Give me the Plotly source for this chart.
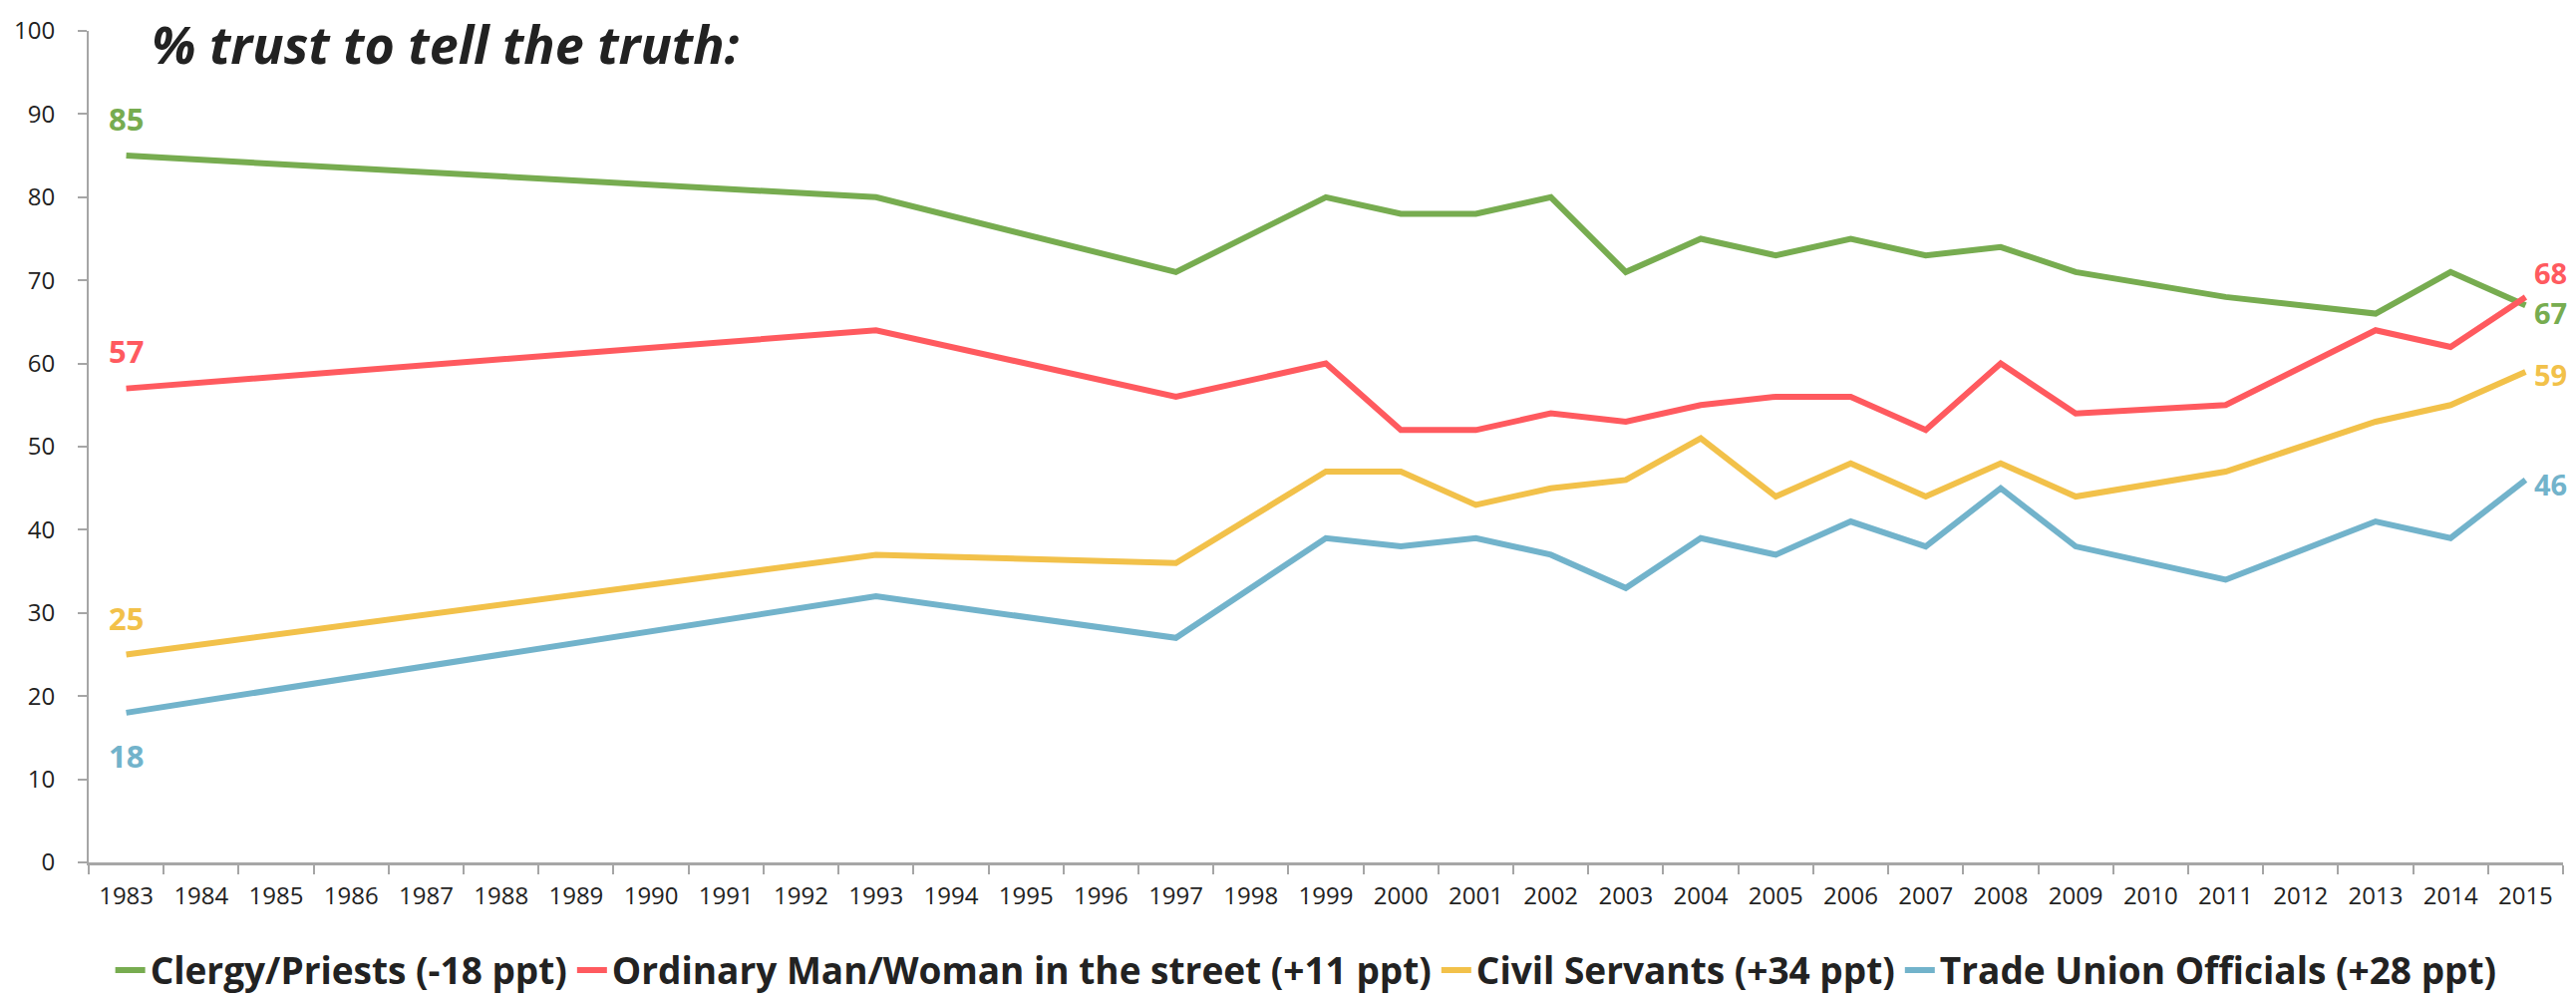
import plotly.graph_objects as go

# category axis: every year from 1983 to 2015, survey only in some years
years = [str(y) for y in range(1983, 2016)]
survey_years = ["1983", "1993", "1997", "1999", "2000", "2001", "2002", "2003", "2004",
                "2005", "2006", "2007", "2008", "2009", "2011", "2013", "2014", "2015"]

clergy = [85, 80, 71, 80, 78, 78, 80, 71, 75, 73, 75, 73, 74, 71, 68, 66, 71, 67]
ordinary = [57, 64, 56, 60, 52, 52, 54, 53, 55, 56, 56, 52, 60, 54, 55, 64, 62, 68]
civil = [25, 37, 36, 47, 47, 43, 45, 46, 51, 44, 48, 44, 48, 44, 47, 53, 55, 59]
union = [18, 32, 27, 39, 38, 39, 37, 33, 39, 37, 41, 38, 45, 38, 34, 41, 39, 46]

series_names = ["Clergy/Priests (-18 ppt)", "Ordinary Man/Woman in the street (+11 ppt)",
                "Civil Servants (+34 ppt)", "Trade Union Officials (+28 ppt)"]
colors = ["#77ac50", "#ff5a5f", "#f2c14a", "#72b3cb"]

# label offsets (px) for first and last point of each series
start_shift = [37, 38, 37, -43]
end_shift = [-7, 24, -3, -4]

fig = go.Figure()

for name, vals, col in zip(series_names, [clergy, ordinary, civil, union], colors):
    fig.add_trace(go.Scatter(
        x=survey_years, y=vals, name=name, mode="lines",
        line=dict(color=col, width=6), connectgaps=True,
    ))

# category axis -> annotation x given as category index
first_idx = years.index(survey_years[0])
last_idx = years.index(survey_years[-1])
for vals, col, s0, s1 in zip([clergy, ordinary, civil, union], colors, start_shift, end_shift):
    fig.add_annotation(x=first_idx, y=vals[0], text=str(vals[0]), showarrow=False,
                       yshift=s0, xanchor="center",
                       font=dict(family="Open Sans", size=31, color=col, weight="bold"))
    fig.add_annotation(x=last_idx, y=vals[-1], text=str(vals[-1]), showarrow=False,
                       xshift=8, yshift=s1, xanchor="left", borderpad=0,
                       font=dict(family="Open Sans", size=29, color=col, weight="bold"))

fig.add_annotation(xref="paper", yref="paper", x=0.0246, y=0.9856, xanchor="left", yanchor="middle",
                   text="% trust to tell the truth:", showarrow=False,
                   font=dict(family="Open Sans", size=52, color="#222222",
                             weight="bold", style="italic"))

fig.update_xaxes(
    type="category", categoryorder="array", categoryarray=years, range=[-0.5, 32.5],
    tickson="boundaries", ticks="outside", ticklen=9, tickcolor="#a6a6a6", tickwidth=2,
    showline=True, linecolor="#a6a6a6", linewidth=3, showgrid=False, zeroline=False,
    tickfont=dict(family="Open Sans", size=24, color="#222222"), ticklabelstandoff=10,
    automargin=False,
)
fig.update_yaxes(
    range=[0, 100], dtick=10, ticks="outside", ticklen=9, tickcolor="#a6a6a6", tickwidth=2,
    showline=True, linecolor="#a6a6a6", linewidth=2, showgrid=False, zeroline=False,
    tickfont=dict(family="Open Sans", size=24, color="#222222"), ticklabelstandoff=18,
    automargin=False,
)

fig.update_layout(
    width=2584, height=1001,
    margin=dict(l=81, r=21, t=23, b=144, autoexpand=False),
    paper_bgcolor="white", plot_bgcolor="white",
    legend=dict(orientation="h", x=0.492, xanchor="center", y=-0.13, yanchor="middle",
                font=dict(family="Open Sans", size=37, color="#222222", weight="bold"),
                itemwidth=30, traceorder="normal"),
)

fig.write_html("out.html")
